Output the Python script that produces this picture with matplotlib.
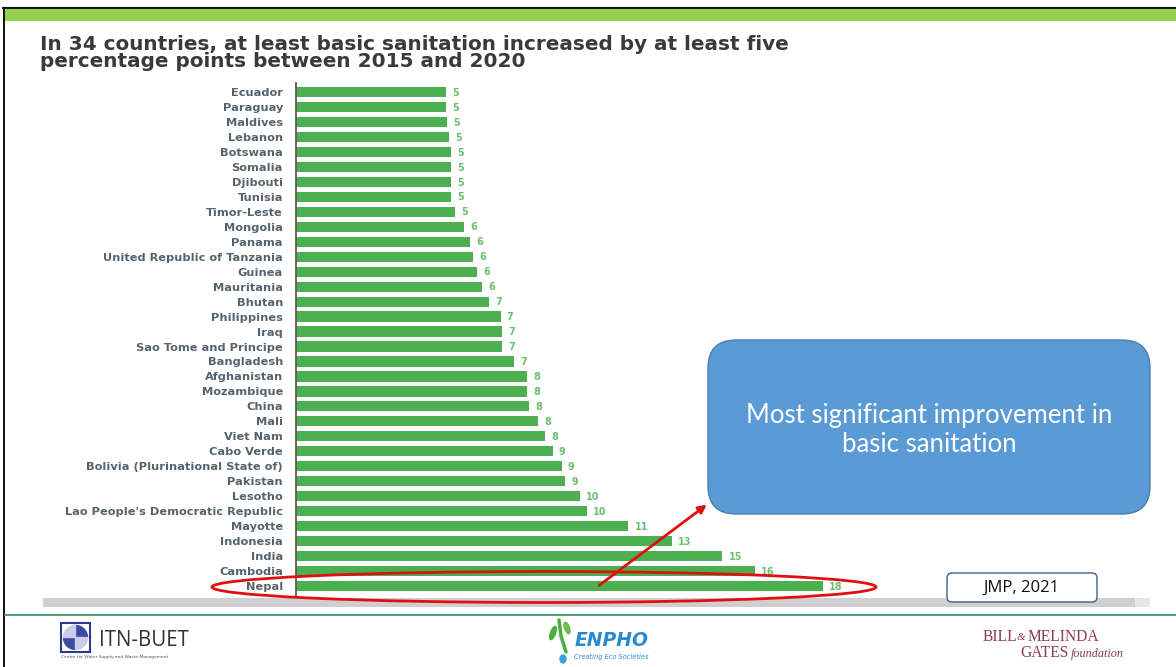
import matplotlib
matplotlib.use("Agg")
import matplotlib.pyplot as plt
import matplotlib.patches as patches
import numpy as np

# Chart data, top to bottom
countries = [
    "Ecuador", "Paraguay", "Maldives", "Lebanon", "Botswana", "Somalia",
    "Djibouti", "Tunisia", "Timor-Leste", "Mongolia", "Panama",
    "United Republic of Tanzania", "Guinea", "Mauritania", "Bhutan",
    "Philippines", "Iraq", "Sao Tome and Principe", "Bangladesh",
    "Afghanistan", "Mozambique", "China", "Mali", "Viet Nam", "Cabo Verde",
    "Bolivia (Plurinational State of)", "Pakistan", "Lesotho",
    "Lao People's Democratic Republic", "Mayotte", "Indonesia", "India",
    "Cambodia", "Nepal",
]
increase = [
    5.12, 5.13, 5.17, 5.24, 5.29, 5.29, 5.29, 5.29, 5.43, 5.74, 5.94,
    6.04, 6.18, 6.35, 6.60, 6.98, 7.03, 7.03, 7.45, 7.89, 7.89, 7.95,
    8.26, 8.49, 8.75, 9.06, 9.17, 9.68, 9.91, 11.33, 12.80, 14.53,
    15.64, 17.96,
]
labels = [5, 5, 5, 5, 5, 5, 5, 5, 5, 6, 6, 6, 6, 6, 7, 7, 7, 7, 7,
          8, 8, 8, 8, 8, 9, 9, 9, 10, 10, 11, 13, 15, 16, 18]

title = ("In 34 countries, at least basic sanitation increased by at least five\n"
         "percentage points between 2015 and 2020")
callout = "Most significant improvement in\nbasic sanitation"
source = "JMP, 2021"

W, H = 1176, 667
fig = plt.figure(figsize=(W / 100, H / 100), dpi=100)
fig.patch.set_facecolor("white")


def fx(px):
    return px / W


def fy(py):
    return 1 - py / H


# background overlay in pixel coordinates
bg = fig.add_axes([0, 0, 1, 1])
bg.set_xlim(0, W)
bg.set_ylim(H, 0)
bg.axis("off")

bg.plot([3, W], [6.5, 6.5], color="#b0b0b0", lw=1)
bg.plot([3, W], [8.3, 8.3], color="black", lw=1.3)
bg.plot([3.5, 3.5], [8, H], color="black", lw=1.3)
bg.add_patch(patches.Rectangle((4, 9.3), W, 11.5, color="#92d050", lw=0))
bg.text(40, 53, title, fontsize=14.4, fontweight="bold", color="#3a3a3a",
        va="center", ha="left", linespacing=0.86)

# bar chart
bar_ax = fig.add_axes([fx(295.5), fy(597), fx(587.6), (597 - 83) / H])
y = np.arange(len(countries))
bar_ax.barh(y, increase, height=0.68, color="#4caf50", zorder=2)
bar_ax.set_xlim(0, 20)
bar_ax.set_ylim(33.73, -0.6)
bar_ax.set_yticks(y)
bar_ax.set_yticklabels(countries, fontsize=8.2, color="#55636f",
                       fontweight="bold")
bar_ax.tick_params(axis="y", length=0, pad=9)
bar_ax.set_xticks([])
for s in ["top", "right", "bottom"]:
    bar_ax.spines[s].set_visible(False)
bar_ax.spines["left"].set_color("#5a5a5a")
bar_ax.spines["left"].set_linewidth(1.3)
bar_ax.patch.set_alpha(0)
for yi, v, lab in zip(y, increase, labels):
    bar_ax.annotate(str(lab), (v, yi), xytext=(4.5, -0.5),
                    textcoords="offset points", va="center", ha="left",
                    fontsize=7, fontweight="bold", color="#6cc070")

# overlay for annotations and logos
ov = fig.add_axes([0, 0, 1, 1])
ov.set_xlim(0, W)
ov.set_ylim(H, 0)
ov.axis("off")
ov.patch.set_alpha(0)

# grey base band and footer line
ov.add_patch(patches.Rectangle((43, 598), 1092, 9, color="#cfcfcf", lw=0, zorder=1))
ov.add_patch(patches.Rectangle((1135, 598), 15, 9, color="#e6e6e6", lw=0, zorder=1))
ov.plot([5, W], [614.5, 614.5], color="#2e8b57", lw=1.2, zorder=1)

# red ellipse around Nepal
ov.add_patch(patches.Ellipse((544, 587), 664, 31, fill=False, edgecolor="#e01010",
                             lw=2, zorder=5))
# red arrow to the callout
ov.annotate("", xy=(709, 503), xytext=(597, 587),
            arrowprops=dict(arrowstyle="-|>", color="#e01010", lw=2,
                            mutation_scale=12), zorder=6)

# callout box
ov.add_patch(patches.FancyBboxPatch((708, 340), 442, 174,
                                    boxstyle="round,pad=0,rounding_size=28",
                                    facecolor="#5b9bd5", edgecolor="#4a7fb0",
                                    lw=1, zorder=4))
ov.text(929, 430, callout, ha="center", va="center", color="white",
        fontsize=18.5, family="Lato", linespacing=1.25, zorder=5)

# source box
ov.add_patch(patches.FancyBboxPatch((947, 573), 150, 29,
                                    boxstyle="round,pad=0,rounding_size=5",
                                    facecolor="white", edgecolor="#41608a",
                                    lw=1, zorder=6))
ov.text(1021, 588, source, ha="center", va="center", fontsize=12,
        family="Open Sans", color="#111111", zorder=7)

# ITN-BUET logo
ov.add_patch(patches.Rectangle((61, 623), 29, 29, facecolor="white",
                               edgecolor="#2b3990", lw=1.5, zorder=3))
ov.add_patch(patches.Wedge((75.5, 637.5), 12, 90, 180, color="#3a4aa0", zorder=4))
ov.add_patch(patches.Wedge((75.5, 637.5), 12, 270, 360, color="#3a4aa0", zorder=4))
ov.add_patch(patches.Wedge((75.5, 637.5), 12, 0, 90, color="#c8cde8", zorder=4))
ov.add_patch(patches.Wedge((75.5, 637.5), 12, 180, 270, color="#c8cde8", zorder=4))
ov.text(99, 641, "ITN-BUET", fontsize=14.8, color="#333333", va="center",
        family="Open Sans", zorder=4)
ov.text(61, 657, "Centre for Water Supply and Waste Management", fontsize=3.2,
        color="#555555", va="center", zorder=4)

# ENPHO logo
ov.plot([566, 561, 559], [652, 636, 620], color="#4cae3c", lw=2.5,
        solid_capstyle="round", zorder=4)
ov.add_patch(patches.Ellipse((553, 633), 5, 14, angle=20, color="#4cae3c", zorder=4))
ov.add_patch(patches.Ellipse((567, 628), 5, 12, angle=-20, color="#6cc04a", zorder=4))
ov.add_patch(patches.Ellipse((563, 659), 6, 8, color="#3aa0d8", zorder=4))
ov.text(575, 641, "ENPHO", fontsize=13.5, fontweight="bold", style="italic",
        color="#2a8ad0", va="center", zorder=4)
ov.text(574, 657, "Creating Eco Societies", fontsize=4.8, style="italic",
        color="#2a8ad0", va="center", zorder=4)

# Gates foundation logo
ov.text(983, 637, "BILL", fontsize=11.2, family="Liberation Serif",
        color="#8c3b5b", va="center", zorder=4)
ov.text(1017, 637, "&", fontsize=8, family="Liberation Serif", style="italic",
        color="#8c3b5b", va="center", zorder=4)
ov.text(1028, 637, "MELINDA", fontsize=11.2, family="Liberation Serif",
        color="#8c3b5b", va="center", zorder=4)
ov.text(1020, 653, "GATES", fontsize=11.2, family="Liberation Serif",
        color="#8c3b5b", va="center", zorder=4)
ov.text(1071, 654, "foundation", fontsize=8.8, family="Liberation Serif",
        style="italic", color="#8c3b5b", va="center", zorder=4)

fig.savefig("out.png", dpi=100, facecolor="white")
